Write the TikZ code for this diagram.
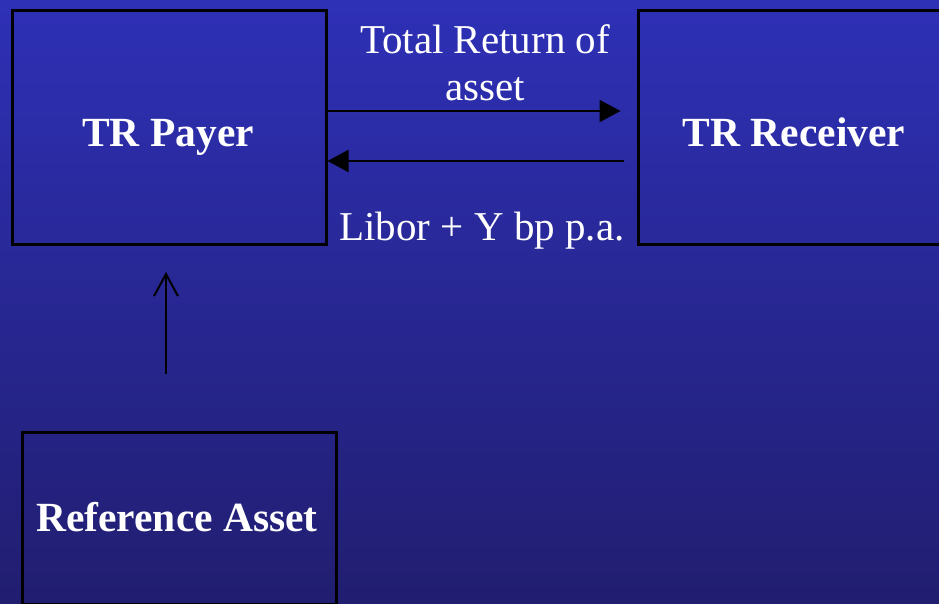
\documentclass[tikz,border=0pt]{standalone}
\usepackage{fontspec}
\setmainfont{Liberation Serif}
\usetikzlibrary{arrows.meta,calc}
\definecolor{bgtop}{RGB}{46,48,182}
\definecolor{bgbot}{RGB}{33,30,112}
\tikzset{
  box/.style={draw=black, line width=3pt, inner sep=0pt},
  boxtext/.style={text=white, inner sep=0pt, anchor=base,
    font=\fontsize{41.5}{47}\selectfont\bfseries},
  lbl/.style={text=white, inner sep=0pt, align=center, anchor=base,
    font=\fontsize{41}{47}\selectfont},
  flow/.style={draw=black, line width=2pt, -{Triangle[length=21pt,width=22pt]}},
  up/.style={draw=black, line width=2pt, -{Straight Barb[length=22pt,width=24pt,line width=2pt]}}
}
\begin{document}
\begin{tikzpicture}[x=1pt,y=1pt]
\useasboundingbox (0,0) rectangle (939,-603);
\clip (0,0) rectangle (939,-603);
\fill[top color=bgtop, bottom color=bgbot] (0,0) rectangle (939,-603);
\node[box, minimum width=314pt, minimum height=234pt] (payer) at (169,-127) {};
\node[box, minimum width=312pt, minimum height=234pt] (recv) at (794,-127) {};
\node[box, minimum width=314pt, minimum height=172pt] (ref) at (179,-518) {};
\node[boxtext] (payertxt) at (168,-146) {TR Payer};
\node[boxtext] (recvtxt) at (794,-146) {TR Receiver};
\node[boxtext] (reftxt) at (177,-531) {Reference Asset};
\coordinate (a1s) at (payer.east |- 0,-111);
\coordinate (a1e) at ($(recv.west |- 0,-111)+(-16,0)$);
\coordinate (a2s) at ($(recv.west |- 0,-161)+(-13,0)$);
\coordinate (a2e) at (payer.east |- 0,-161);
\draw[flow] (a1s) -- (a1e);
\draw[flow] (a2s) -- (a2e);
\coordinate (u1) at (166,-374);
\coordinate (u2) at (166,-272);
\draw[up] (u1) -- (u2);
\node[lbl] (t1) at (485,-100) {Total Return of\\asset};
\node[lbl] (t2) at (482,-240) {Libor + Y bp p.a.};
\end{tikzpicture}
\end{document}
